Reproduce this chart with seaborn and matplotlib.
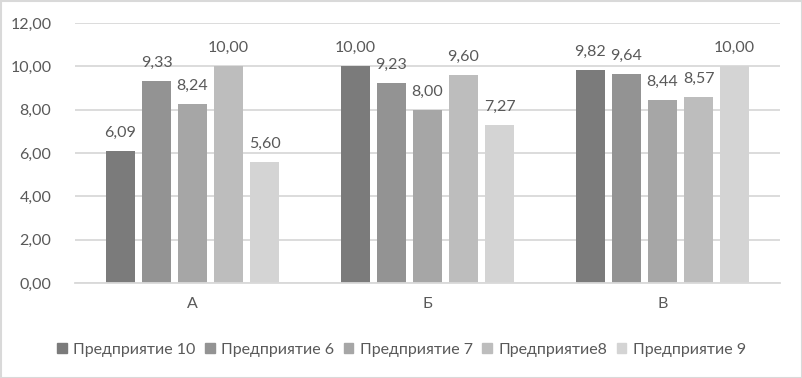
import matplotlib
matplotlib.use("Agg")
import matplotlib.pyplot as plt
import seaborn as sns
import pandas as pd
from matplotlib.patches import Rectangle

categories = ["А", "Б", "В"]
series = ["Предприятие 10", "Предприятие 6", "Предприятие 7", "Предприятие8", "Предприятие 9"]
v10 = [6.09, 10.00, 9.82]
v6 = [9.33, 9.23, 9.64]
v7 = [8.24, 8.00, 8.44]
v8 = [10.00, 9.60, 8.57]
v9 = [5.60, 7.27, 10.00]
colors = ["#7b7b7b", "#939393", "#a6a6a6", "#bdbdbd", "#d4d4d4"]

rows = []
for s, vals in zip(series, [v10, v6, v7, v8, v9]):
    for c, v in zip(categories, vals):
        rows.append({"cat": c, "series": s, "val": v})
df = pd.DataFrame(rows)

sns.set_theme(style="white")
plt.rcParams['font.family'] = ['Lato', 'DejaVu Sans']
text_color = "#595959"
grid_color = "#d9d9d9"
fs = 11.5

fig = plt.figure(figsize=(8.03, 3.78), dpi=100)
ax = fig.add_axes([75/803, 1-283/378, 705/803, (283-23)/378])
sns.barplot(data=df, x="cat", y="val", hue="series", order=categories, hue_order=series,
            palette=colors, width=0.766, gap=0.22, ax=ax, legend=False,
            saturation=1, linewidth=0, errorbar=None)

ax.set_xlim(-0.5, 2.5)
ax.set_ylim(0, 12)
ax.set_yticks(range(0, 13, 2))
ax.set_yticklabels([f"{t:.2f}".replace(".", ",") for t in range(0, 13, 2)],
                   color=text_color, fontsize=fs)
ax.tick_params(axis='y', length=0, pad=17)
ax.tick_params(axis='x', length=0, pad=10, labelcolor=text_color, labelsize=fs)
ax.set_xlabel("")
ax.set_ylabel("")
ax.yaxis.grid(True, color=grid_color, linewidth=1.3)
ax.set_axisbelow(True)
for sp in ["top", "right", "left"]:
    ax.spines[sp].set_visible(False)
ax.spines["bottom"].set_color(grid_color)
ax.spines["bottom"].set_linewidth(1.3)

for cont in ax.containers:
    ax.bar_label(cont, labels=[f"{b.get_height():.2f}".replace(".", ",") for b in cont],
                 padding=8, color=text_color, fontsize=fs)

handles = [Rectangle((0, 0), 1, 1, color=c) for c in colors]
fig.legend(handles, series, loc="center", bbox_to_anchor=(0.5, 1-350/378), ncol=5,
           frameon=False, handlelength=0.6, handleheight=0.6, handletextpad=0.4,
           columnspacing=0.6, labelcolor=text_color, fontsize=fs)

fig.patches.append(Rectangle((0.5/803, 0.5/378), 1-1/803, 1-1/378, transform=fig.transFigure,
                             fill=False, edgecolor=grid_color, linewidth=1.5))
fig.savefig("out.png", dpi=100)
